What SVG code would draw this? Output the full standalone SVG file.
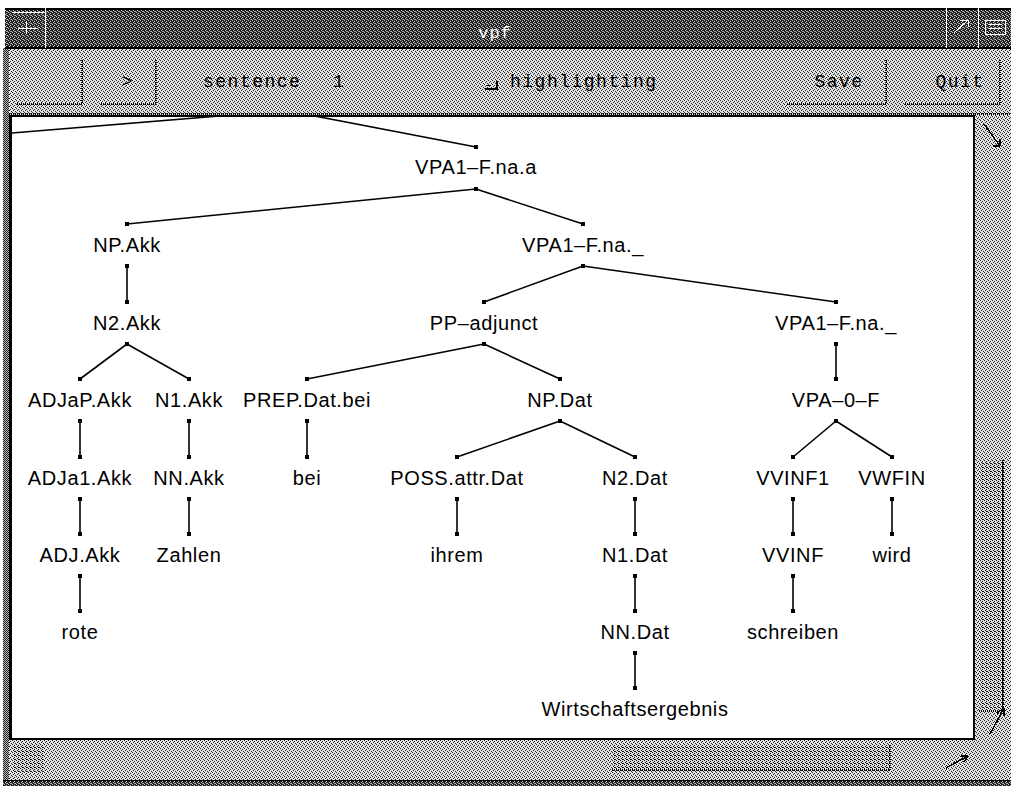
<svg xmlns="http://www.w3.org/2000/svg" width="1011" height="786" viewBox="0 0 1011 786">
<defs>
  <pattern id="dark" patternUnits="userSpaceOnUse" width="4" height="4">
    <rect width="4" height="4" fill="#222"/>
    <rect x="0" y="0" width="1" height="1" fill="#c8c8c8"/>
    <rect x="2" y="1" width="1" height="1" fill="#c8c8c8"/>
    <rect x="1" y="2" width="1" height="1" fill="#c8c8c8"/>
    <rect x="3" y="3" width="1" height="1" fill="#c8c8c8"/>
    <rect x="2" y="3" width="1" height="1" fill="#888"/>
  </pattern>
  <pattern id="light" patternUnits="userSpaceOnUse" width="4" height="4">
    <rect width="4" height="4" fill="#e2e2e2"/>
    <rect x="0" y="0" width="1" height="1" fill="#222"/>
    <rect x="2" y="1" width="1" height="1" fill="#222"/>
    <rect x="1" y="2" width="1" height="1" fill="#222"/>
    <rect x="3" y="3" width="1" height="1" fill="#222"/>
  </pattern>
  <pattern id="mid" patternUnits="userSpaceOnUse" width="4" height="4">
    <rect width="4" height="4" fill="#dcdcdc"/>
    <rect x="0" y="0" width="1" height="1" fill="#111"/>
    <rect x="2" y="1" width="1" height="1" fill="#111"/>
    <rect x="1" y="2" width="1" height="1" fill="#111"/>
    <rect x="3" y="3" width="1" height="1" fill="#111"/>
    <rect x="2" y="3" width="1" height="1" fill="#111"/>
  </pattern>
  <pattern id="dense" patternUnits="userSpaceOnUse" width="4" height="4">
    <rect width="4" height="4" fill="#d0d0d0"/>
    <rect x="0" y="0" width="1" height="1" fill="#111"/>
    <rect x="2" y="0" width="1" height="1" fill="#111"/>
    <rect x="1" y="1" width="1" height="1" fill="#111"/>
    <rect x="3" y="2" width="1" height="1" fill="#111"/>
    <rect x="0" y="2" width="1" height="1" fill="#111"/>
    <rect x="2" y="3" width="1" height="1" fill="#111"/>
  </pattern>
  <pattern id="checker" patternUnits="userSpaceOnUse" width="2" height="2">
    <rect width="2" height="2" fill="#bbb"/>
    <rect x="0" y="0" width="1" height="1" fill="#222"/>
    <rect x="1" y="1" width="1" height="1" fill="#222"/>
  </pattern>
  <marker id="dot" markerUnits="userSpaceOnUse" markerWidth="6" markerHeight="6" refX="3" refY="3" orient="0">
    <rect x="1" y="1" width="4" height="4" fill="#000"/>
  </marker>
  <clipPath id="canvasClip"><rect x="12" y="117" width="962" height="622"/></clipPath>
  <style>
    .lbl { font-family: "Liberation Sans", Arial, sans-serif; font-size: 20px; fill: #000; text-anchor: middle; letter-spacing: 0.6px; }
    .edge { stroke: #000; stroke-width: 1.6; fill: none; marker-start: url(#dot); marker-end: url(#dot); }
    .edge0 { stroke: #000; stroke-width: 1.6; fill: none; }
    .btn { font-family: "Liberation Mono", "DejaVu Sans Mono", monospace; font-size: 18px; fill: #000; letter-spacing: 1.5px; }
    .shade { stroke: #000; stroke-width: 2; stroke-dasharray: 1 1; fill: none; }
    .wl { stroke: #fff; stroke-width: 1; fill: none; }
  </style>
</defs>

<!-- background -->
<rect x="0" y="0" width="1011" height="786" fill="#fff"/>

<!-- canvas -->
<rect x="12" y="117" width="962" height="622" fill="#fff"/>

<g id="connectors" clip-path="url(#canvasClip)">
  <line class="edge0" x1="286" y1="110.5" x2="12" y2="133"/>
  <line class="edge0" x1="286" y1="110.5" x2="476" y2="147" marker-end="url(#dot)"/>
  <line class="edge" x1="476" y1="189" x2="127" y2="224"/>
  <line class="edge" x1="476" y1="189" x2="583" y2="224"/>
  <line class="edge" x1="127" y1="266" x2="127" y2="302"/>
  <line class="edge" x1="583" y1="266" x2="484" y2="302"/>
  <line class="edge" x1="583" y1="266" x2="836" y2="302"/>
  <line class="edge" x1="127" y1="344" x2="80" y2="379"/>
  <line class="edge" x1="127" y1="344" x2="189" y2="379"/>
  <line class="edge" x1="484" y1="344" x2="307" y2="379"/>
  <line class="edge" x1="484" y1="344" x2="560" y2="379"/>
  <line class="edge" x1="836" y1="344" x2="836" y2="379"/>
  <line class="edge" x1="80" y1="421" x2="80" y2="457"/>
  <line class="edge" x1="189" y1="421" x2="189" y2="457"/>
  <line class="edge" x1="307" y1="421" x2="307" y2="457"/>
  <line class="edge" x1="560" y1="421" x2="457" y2="457"/>
  <line class="edge" x1="560" y1="421" x2="635" y2="457"/>
  <line class="edge" x1="836" y1="421" x2="793" y2="457"/>
  <line class="edge" x1="836" y1="421" x2="892" y2="457"/>
  <line class="edge" x1="80" y1="499" x2="80" y2="534"/>
  <line class="edge" x1="189" y1="499" x2="189" y2="534"/>
  <line class="edge" x1="457" y1="499" x2="457" y2="534"/>
  <line class="edge" x1="635" y1="499" x2="635" y2="534"/>
  <line class="edge" x1="793" y1="499" x2="793" y2="534"/>
  <line class="edge" x1="892" y1="499" x2="892" y2="534"/>
  <line class="edge" x1="80" y1="576" x2="80" y2="611"/>
  <line class="edge" x1="635" y1="576" x2="635" y2="611"/>
  <line class="edge" x1="793" y1="576" x2="793" y2="611"/>
  <line class="edge" x1="635" y1="653" x2="635" y2="688"/>
</g>

<g id="n-vpa1-root"><text class="lbl" x="476" y="174">VPA1–F.na.a</text></g>
<g id="n-np-akk"><text class="lbl" x="127" y="252">NP.Akk</text></g>
<g id="n-vpa1-mid"><text class="lbl" x="583" y="252">VPA1–F.na._</text></g>
<g id="n-n2-akk"><text class="lbl" x="127" y="330">N2.Akk</text></g>
<g id="n-pp-adjunct"><text class="lbl" x="484" y="330">PP–adjunct</text></g>
<g id="n-vpa1-right"><text class="lbl" x="836" y="330">VPA1–F.na._</text></g>
<g id="n-adjap-akk"><text class="lbl" x="80" y="407">ADJaP.Akk</text></g>
<g id="n-n1-akk"><text class="lbl" x="189" y="407">N1.Akk</text></g>
<g id="n-prep"><text class="lbl" x="307" y="407">PREP.Dat.bei</text></g>
<g id="n-np-dat"><text class="lbl" x="560" y="407">NP.Dat</text></g>
<g id="n-vpa0"><text class="lbl" x="836" y="407">VPA–0–F</text></g>
<g id="n-adja1-akk"><text class="lbl" x="80" y="485">ADJa1.Akk</text></g>
<g id="n-nn-akk"><text class="lbl" x="189" y="485">NN.Akk</text></g>
<g id="n-bei"><text class="lbl" x="307" y="485">bei</text></g>
<g id="n-poss"><text class="lbl" x="457" y="485">POSS.attr.Dat</text></g>
<g id="n-n2-dat"><text class="lbl" x="635" y="485">N2.Dat</text></g>
<g id="n-vvinf1"><text class="lbl" x="793" y="485">VVINF1</text></g>
<g id="n-vwfin"><text class="lbl" x="892" y="485">VWFIN</text></g>
<g id="n-adj-akk"><text class="lbl" x="80" y="562">ADJ.Akk</text></g>
<g id="n-zahlen"><text class="lbl" x="189" y="562">Zahlen</text></g>
<g id="n-ihrem"><text class="lbl" x="457" y="562">ihrem</text></g>
<g id="n-n1-dat"><text class="lbl" x="635" y="562">N1.Dat</text></g>
<g id="n-vvinf"><text class="lbl" x="793" y="562">VVINF</text></g>
<g id="n-wird"><text class="lbl" x="892" y="562">wird</text></g>
<g id="n-rote"><text class="lbl" x="80" y="639">rote</text></g>
<g id="n-nn-dat"><text class="lbl" x="635" y="639">NN.Dat</text></g>
<g id="n-schreiben"><text class="lbl" x="793" y="639">schreiben</text></g>
<g id="n-wirtschaft"><text class="lbl" x="635" y="716">Wirtschaftsergebnis</text></g>

<!-- window chrome -->
<g id="chrome" shape-rendering="crispEdges">
  <!-- left frame -->
  <rect x="3" y="48" width="6" height="738" fill="url(#checker)"/>
  <rect x="9" y="115" width="3" height="626" fill="#000"/>
  <!-- title bar -->
  <rect x="5" y="8" width="1006" height="41" fill="url(#dark)"/>
  <rect x="5" y="8" width="1006" height="2" fill="#000"/>
  <rect x="5" y="47" width="1006" height="2" fill="#000"/>
  <line class="wl" x1="5" y1="7.5" x2="1011" y2="7.5"/>
  <line class="wl" x1="45.5" y1="3" x2="45.5" y2="48"/>
  <line class="wl" x1="946.5" y1="3" x2="946.5" y2="48"/>
  <line class="wl" x1="978.5" y1="3" x2="978.5" y2="48"/>
  <line class="wl" x1="12" y1="12.5" x2="44" y2="12.5"/>
  <path class="wl" d="M18 28.5 H38 M26 22 V34"/>
  <path class="wl" d="M954 33 L968 20 M960 20 H968 V27"/>
  <rect x="985.5" y="20.5" width="20" height="14" class="wl"/>
  <path class="wl" d="M989 24.5 H1002 M989 28.5 H1002"/>
  <text x="495" y="38" font-family="Liberation Mono, DejaVu Sans Mono, monospace" font-size="17" fill="#fff" text-anchor="middle" letter-spacing="1">vpf</text>

  <!-- button bar -->
  <rect x="9" y="49" width="1002" height="66" fill="url(#light)"/>
  <line class="shade" x1="9" y1="114" x2="1011" y2="114"/>
  <!-- buttons -->
  <path class="shade" d="M82 60 V104 H16"/>
  <path class="shade" d="M156 60 V104 H101"/>
  <text class="btn" x="128" y="87" text-anchor="middle">&gt;</text>
  <text class="btn" x="203" y="87">sentence</text>
  <text class="btn" x="333" y="87">1</text>
  <path d="M485 89 H497 V81" stroke="#000" stroke-width="2" fill="none"/>
  <path d="M486 85 H491" stroke="#000" stroke-width="1" fill="none"/>
  <text class="btn" x="510" y="87">highlighting</text>
  <path class="shade" d="M886 60 V104 H787"/>
  <text class="btn" x="839" y="87" text-anchor="middle">Save</text>
  <path class="shade" d="M1000 60 V104 H904"/>
  <text class="btn" x="960" y="87" text-anchor="middle">Quit</text>

  <!-- canvas borders -->
  <rect x="9" y="115" width="966" height="2" fill="#000"/>
  <rect x="973" y="115" width="2" height="626" fill="#000"/>
  <rect x="9" y="738" width="966" height="2" fill="#000"/>

  <!-- right scrollbar -->
  <rect x="975" y="115" width="36" height="627" fill="url(#light)"/>
  <path d="M984 124 L1000 146 M1000 146 V139 M1000 146 H993" stroke="#000" stroke-width="1.5" fill="none"/>
  <rect x="979" y="460" width="24" height="250" fill="url(#mid)"/>
  <line class="shade" x1="1003" y1="460" x2="1003" y2="711"/>
  <line class="shade" x1="979" y1="711" x2="1003" y2="711"/>
  <path d="M990 734 L1004 708 M1004 708 V716 M1004 708 L997 713" stroke="#000" stroke-width="1.5" fill="none"/>

  <!-- bottom scrollbar -->
  <rect x="9" y="740" width="1002" height="40" fill="url(#light)"/>
  <rect x="14" y="744" width="29" height="28" fill="url(#mid)"/>
  <rect x="612" y="745" width="278" height="24" fill="url(#mid)"/>
  <line class="shade" x1="890" y1="745" x2="890" y2="770"/>
  <line class="shade" x1="612" y1="770" x2="890" y2="770"/>
  <path d="M946 768 L968 756 M968 756 H961 M968 756 L964 762" stroke="#000" stroke-width="1.5" fill="none"/>

  <!-- bottom frame -->
  <rect x="3" y="780" width="1008" height="6" fill="url(#dark)"/>
  <rect x="3" y="780" width="1008" height="1" fill="#000"/>
</g>
</svg>
